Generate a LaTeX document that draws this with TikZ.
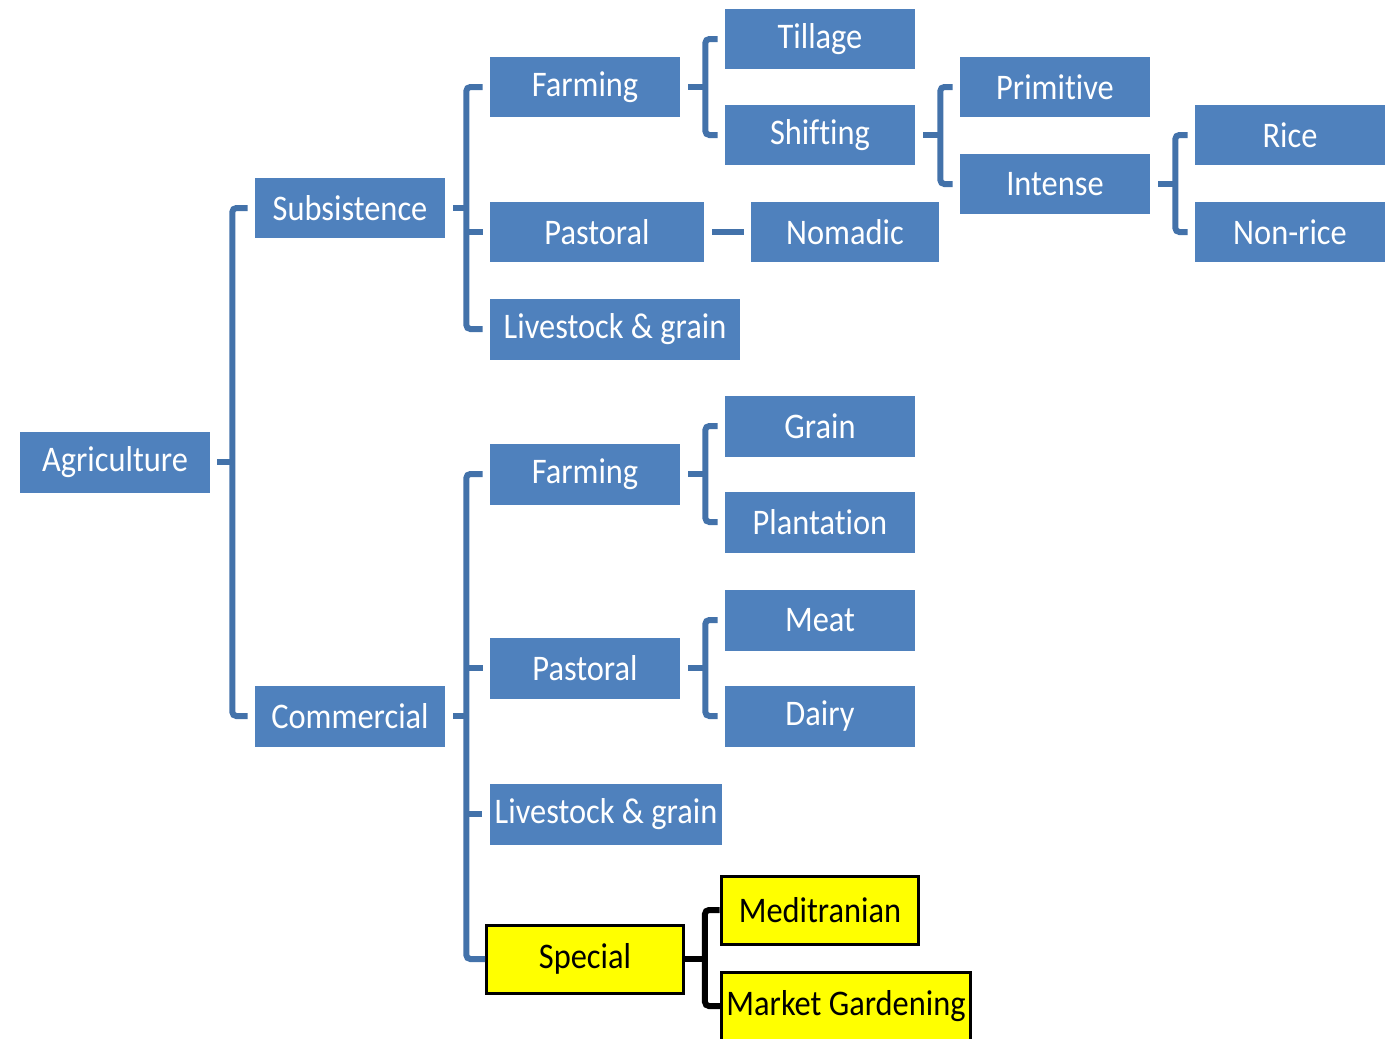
\documentclass[tikz,border=0pt]{standalone}
\usepackage{fontspec}
\setmainfont{Carlito}[Ligatures=NoCommon, FakeStretch=0.9]
\definecolor{boxblue}{HTML}{4F81BD}
\definecolor{linkblue}{HTML}{4372AA}
\definecolor{specyellow}{HTML}{FFFF00}
\newcommand{\boxfont}{\fontsize{20.5}{24}\selectfont}
\begin{document}
\begin{tikzpicture}[x=0.02cm, y=-0.02cm,
    box/.style={fill=boxblue, text=white, font=\boxfont, minimum width=3.8cm, minimum height=1.22cm, inner sep=0pt},
    special/.style={fill=specyellow, draw=black, line width=0.06cm, text=black, font=\boxfont, minimum height=1.36cm, inner sep=0pt},
    link/.style={draw=linkblue, line width=0.12cm, rounded corners=0.08cm},
    blacklink/.style={draw=black, line width=0.12cm, rounded corners=0.08cm}]
    \clip (0,0) rectangle (1385,1038);

    \node[box] (agri) at (115,462) {Agriculture};
    \node[box] (subs) at (350,208) {Subsistence};
    \node[box] (comm) at (350,716) {Commercial};

    \node[box] (sfarm) at (585,87) {Farming};
    \node[box, minimum width=4.28cm] (spast) at (597,232) {Pastoral};
    \node[box, minimum width=5cm] (slive) at (615,329) {Livestock \& grain};
    \node[box] (till) at (820,39) {Tillage};
    \node[box] (shift) at (820,135) {Shifting};
    \node[box, minimum width=3.76cm] (nomad) at (845,232) {Nomadic};
    \node[box] (prim) at (1055,87) {Primitive};
    \node[box] (inten) at (1055,184) {Intense};
    \node[box] (rice) at (1290,135) {Rice};
    \node[box] (nonrice) at (1290,232) {Non-rice};

    \node[box] (cfarm) at (585,474) {Farming};
    \node[box] (grain) at (820,426) {Grain};
    \node[box] (plant) at (820,522) {Plantation};
    \node[box] (cpast) at (585,668) {Pastoral};
    \node[box] (meat) at (820,620) {Meat};
    \node[box] (dairy) at (820,716) {Dairy};
    \node[box, minimum width=4.66cm] (clive) at (606,814) {Livestock \& grain};
    \node[special, minimum width=3.94cm] (spec) at (585,959) {Special};
    \node[special, minimum width=3.96cm] (med) at (820,910) {Meditranian};
    \node[special, minimum width=4.98cm] (market) at (846,1006) {Market Gardening};

    % agriculture
    \draw[link] ([xshift=0.14cm]agri.east) -- ([xshift=0.44cm]agri.east);
    \draw[link] ([xshift=-0.14cm]subs.west) -| ([xshift=0.44cm]agri.east) |- ([xshift=-0.14cm]comm.west);

    % subsistence
    \coordinate (sv) at ([xshift=0.42cm]subs.east);
    \draw[link] ([xshift=0.16cm]subs.east) -- (sv);
    \draw[link] ([xshift=-0.14cm]sfarm.west) -| (sv) |- ([xshift=-0.14cm]slive.west);
    \draw[link] ([xshift=-0.14cm]spast.west) -- (spast.west -| sv);

    \draw[link] ([xshift=0.16cm]sfarm.east) -- ([xshift=0.5cm]sfarm.east);
    \draw[link] ([xshift=-0.14cm]till.west) -| ([xshift=0.5cm]sfarm.east) |- ([xshift=-0.14cm]shift.west);
    \draw[link] ([xshift=0.16cm]spast.east) -- ([xshift=-0.14cm]nomad.west);

    \draw[link] ([xshift=0.16cm]shift.east) -- ([xshift=0.5cm]shift.east);
    \draw[link] ([xshift=-0.14cm]prim.west) -| ([xshift=0.5cm]shift.east) |- ([xshift=-0.14cm]inten.west);
    \draw[link] ([xshift=0.16cm]inten.east) -- ([xshift=0.5cm]inten.east);
    \draw[link] ([xshift=-0.14cm]rice.west) -| ([xshift=0.5cm]inten.east) |- ([xshift=-0.14cm]nonrice.west);

    % commercial
    \coordinate (cv) at ([xshift=0.42cm]comm.east);
    \draw[link] ([xshift=0.16cm]comm.east) -- (cv);
    \draw[link] ([xshift=-0.14cm]cfarm.west) -| (cv) |- (spec.west);
    \draw[link] ([xshift=-0.14cm]cpast.west) -- (cpast.west -| cv);
    \draw[link] ([xshift=-0.14cm]clive.west) -- (clive.west -| cv);

    \draw[link] ([xshift=0.16cm]cfarm.east) -- ([xshift=0.5cm]cfarm.east);
    \draw[link] ([xshift=-0.14cm]grain.west) -| ([xshift=0.5cm]cfarm.east) |- ([xshift=-0.14cm]plant.west);
    \draw[link] ([xshift=0.16cm]cpast.east) -- ([xshift=0.5cm]cpast.east);
    \draw[link] ([xshift=-0.14cm]meat.west) -| ([xshift=0.5cm]cpast.east) |- ([xshift=-0.14cm]dairy.west);

    \draw[blacklink] (spec.east) -- ([xshift=0.4cm]spec.east);
    \draw[blacklink] (med.west) -| ([xshift=0.4cm]spec.east) |- (market.west);
\end{tikzpicture}
\end{document}
